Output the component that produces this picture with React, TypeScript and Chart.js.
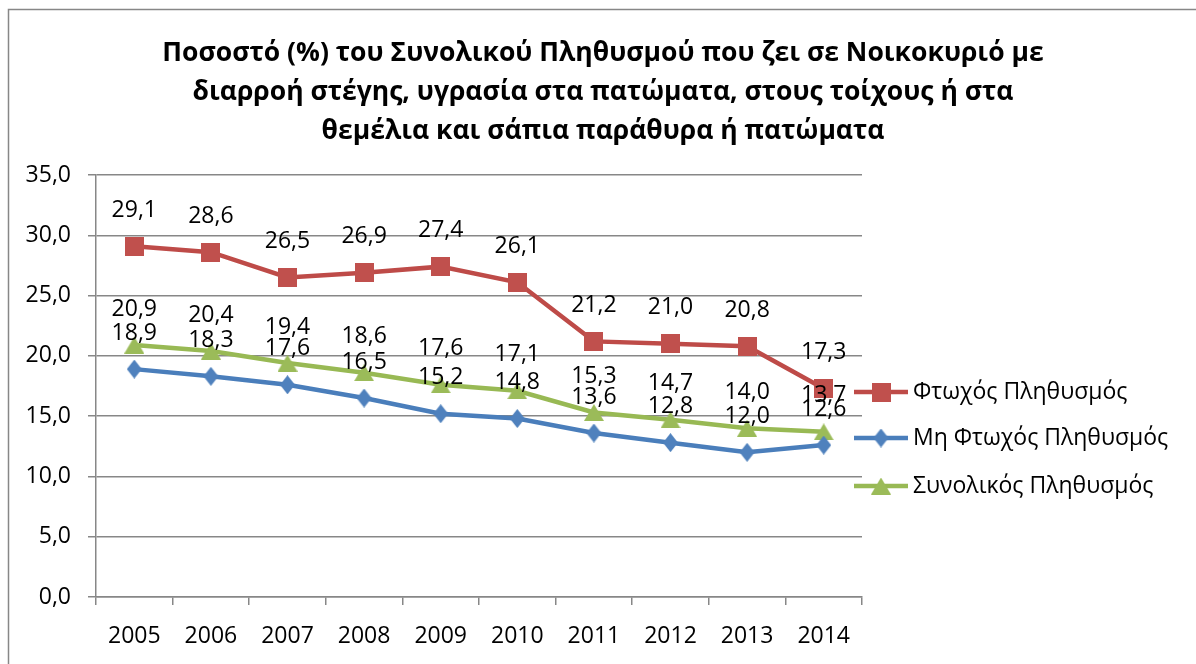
import React, { useEffect, useRef } from "react";
import { Chart, registerables } from "chart.js";

Chart.register(...registerables);

const years = ["2005", "2006", "2007", "2008", "2009", "2010", "2011", "2012", "2013", "2014"];
const poorValues = [29.1, 28.6, 26.5, 26.9, 27.4, 26.1, 21.2, 21.0, 20.8, 17.3];
const nonPoorValues = [18.9, 18.3, 17.6, 16.5, 15.2, 14.8, 13.6, 12.8, 12.0, 12.6];
const totalValues = [20.9, 20.4, 19.4, 18.6, 17.6, 17.1, 15.3, 14.7, 14.0, 13.7];
const seriesNames = ["Φτωχός Πληθυσμός", "Μη Φτωχός Πληθυσμός", "Συνολικός Πληθυσμός"];
const titleLines = [
  "Ποσοστό (%) του Συνολικού Πληθυσμού που ζει σε Νοικοκυριό με",
  "διαρροή στέγης, υγρασία στα πατώματα, στους τοίχους ή στα",
  "θεμέλια και σάπια παράθυρα ή πατώματα",
];

const FONT = "'Open Sans', 'Noto Sans', sans-serif";
const RED = "#BE4B48";
const BLUE = "#4A7EBB";
const GREEN = "#98B954";
const GRID = "#878787";

function makeMarker(kind: string, color: string): HTMLCanvasElement {
  const c = document.createElement("canvas");
  let w = 19, h = 19;
  if (kind === "diamond") { w = 15; h = 19; }
  if (kind === "triangle") { w = 20; h = 17; }
  c.width = w; c.height = h;
  const ctx = c.getContext("2d")!;
  ctx.fillStyle = color;
  ctx.beginPath();
  if (kind === "square") {
    ctx.rect(0, 0, w, h);
  } else if (kind === "diamond") {
    ctx.moveTo(w / 2, 0);
    ctx.lineTo(w, h / 2);
    ctx.lineTo(w / 2, h);
    ctx.lineTo(0, h / 2);
    ctx.closePath();
  } else {
    ctx.moveTo(w / 2, 0);
    ctx.lineTo(w, h);
    ctx.lineTo(0, h);
    ctx.closePath();
  }
  ctx.fill();
  return c;
}

const fmt = (v: number) => v.toFixed(1).replace(".", ",");

export default function App() {
  const ref = useRef<HTMLCanvasElement | null>(null);

  useEffect(() => {
    const canvas = ref.current!;
    const markers = [
      makeMarker("square", "#C0504D"),
      makeMarker("diamond", "#4F81BD"),
      makeMarker("triangle", "#9BBB59"),
    ];
    const colors = [RED, BLUE, GREEN];

    const decor = {
      id: "decor",
      beforeDraw(chart: any) {
        const ctx = chart.ctx;
        ctx.save();
        ctx.fillStyle = "#ffffff";
        ctx.fillRect(0, 0, chart.width, chart.height);
        ctx.strokeStyle = GRID;
        ctx.lineWidth = 1.5;
        ctx.strokeRect(8.5, 9.5, 1200, 700);
        ctx.fillStyle = "#000";
        ctx.font = `bold 26.5px ${FONT}`;
        ctx.textAlign = "center";
        ctx.textBaseline = "middle";
        titleLines.forEach((t, i) => ctx.fillText(t, 603, 53 + i * 39));
        ctx.restore();
      },
      afterDatasetsDraw(chart: any) {
        const ctx = chart.ctx;
        ctx.save();
        ctx.fillStyle = "#000";
        ctx.font = `23px ${FONT}`;
        ctx.textAlign = "center";
        ctx.textBaseline = "middle";
        chart.data.datasets.forEach((ds: any, di: number) => {
          const meta = chart.getDatasetMeta(di);
          meta.data.forEach((pt: any, i: number) => {
            ctx.fillText(fmt(ds.data[i]), pt.x, pt.y - 36);
          });
        });
        ctx.restore();
      },
      afterDraw(chart: any) {
        const ctx = chart.ctx;
        const area = chart.chartArea;
        ctx.save();
        const x0 = area.right - 8;
        const ys = [392, 438, 486];
        seriesNames.forEach((name, i) => {
          const y = ys[i];
          ctx.strokeStyle = colors[i];
          ctx.lineWidth = 4.5;
          ctx.beginPath();
          ctx.moveTo(x0, y);
          ctx.lineTo(x0 + 54, y);
          ctx.stroke();
          const m = markers[i];
          ctx.drawImage(m, x0 + 27 - m.width / 2, y - m.height / 2);
          ctx.fillStyle = "#000";
          ctx.font = `23px ${FONT}`;
          ctx.textAlign = "left";
          ctx.textBaseline = "middle";
          ctx.fillText(name, x0 + 59, y);
        });
        ctx.restore();
      },
    };

    const mk = (label: string, data: number[], i: number) => ({
      label,
      data,
      borderColor: colors[i],
      backgroundColor: colors[i],
      borderWidth: 4.5,
      pointStyle: markers[i],
      pointRadius: 9,
      tension: 0,
    });

    const chart = new Chart(canvas, {
      type: "line",
      data: {
        labels: years,
        datasets: [
          mk(seriesNames[0], poorValues, 0),
          mk(seriesNames[1], nonPoorValues, 1),
          mk(seriesNames[2], totalValues, 2),
        ],
      },
      options: {
        animation: false,
        responsive: false,
        layout: { padding: { top: 175, right: 334, bottom: 0, left: 0 } },
        plugins: {
          legend: { display: false },
          title: { display: false },
          tooltip: { enabled: false },
        },
        scales: {
          x: {
            offset: true,
            afterFit(scale: any) { scale.height = 67; },
            grid: {
              offset: true,
              drawOnChartArea: false,
              drawTicks: true,
              tickLength: 8,
              color: GRID,
              lineWidth: 1.5,
            },
            border: { display: true, color: GRID, width: 1.5 },
            ticks: { color: "#000", font: { family: FONT, size: 23 }, padding: 18, maxRotation: 0 },
          },
          y: {
            min: 0,
            max: 35,
            afterFit(scale: any) { scale.width = 96; },
            grid: { color: GRID, lineWidth: 1.5, tickLength: 8 },
            border: { display: true, color: GRID, width: 1.5 },
            ticks: {
              stepSize: 5,
              color: "#000",
              font: { family: FONT, size: 23 },
              padding: 17,
              callback: (v: any) => fmt(Number(v)),
            },
          },
        },
      },
      plugins: [decor],
    } as any);
    return () => chart.destroy();
  }, []);

  return (
    <div style={{ position: "fixed", left: 0, top: 0, width: 1196, height: 664 }}>
      <canvas ref={ref} width={1196} height={664} style={{ display: "block" }} />
    </div>
  );
}
